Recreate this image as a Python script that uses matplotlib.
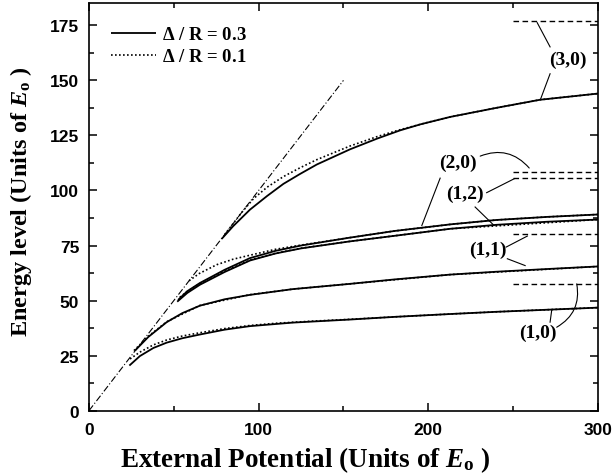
import matplotlib
matplotlib.use("Agg")
import matplotlib.pyplot as plt
from matplotlib.ticker import MultipleLocator

plt.rcParams['mathtext.fontset'] = 'custom'
plt.rcParams['mathtext.rm'] = 'Liberation Serif:bold'
plt.rcParams['mathtext.it'] = 'Liberation Serif:italic:bold'
plt.rcParams['mathtext.bf'] = 'Liberation Serif:bold'

# ---------------- data ----------------
# Delta/R = 0.3 (solid)
x10_s = [23.8, 30, 38, 45.8, 55, 65.4, 80, 94.9, 120, 153.9, 180, 212.9, 240, 271.8, 300]
y10_s = [20.5, 24.8, 28.5, 30.9, 32.9, 34.6, 36.8, 38.4, 40.0, 41.4, 42.6, 43.9, 44.9, 45.9, 46.8]
x11_s = [27.4, 35, 45.8, 55, 65.4, 80, 94.9, 120, 153.9, 180, 212.9, 240, 271.8, 300]
y11_s = [27.5, 33.5, 40.2, 44.3, 47.7, 50.6, 52.6, 55.2, 57.6, 59.6, 61.8, 63.1, 64.4, 65.5]
x20_s = [52.5, 58, 65.4, 80, 94.9, 110, 125, 153.9, 180, 212.9, 240, 270, 300]
y20_s = [50.3, 54.3, 58.0, 64.0, 69.3, 72.6, 75.0, 78.6, 81.6, 84.6, 86.6, 88.0, 89.1]
x12_s = [52.0, 58, 65.4, 80, 94.9, 110, 125, 153.9, 180, 212.9, 240, 270, 300]
y12_s = [49.5, 53.5, 57.2, 63.0, 68.2, 71.4, 73.7, 76.9, 79.4, 82.6, 84.4, 85.8, 86.8]
x30_s = [78.2, 85, 94.9, 105, 114.6, 124.4, 134.3, 153.9, 170, 183.4, 195.2, 212.9, 240, 265.9, 300]
y30_s = [78.0, 83.8, 91.3, 97.5, 103.0, 107.5, 111.8, 118.7, 123.6, 127.3, 130.0, 133.4, 137.5, 141.2, 144.0]

# Delta/R = 0.1 (dotted)
x10_d = [24.2, 30, 38, 45.8, 55, 65.4, 80, 94.9, 110, 130, 153.9, 180, 212.9, 240, 271.8, 300]
y10_d = [23.5, 26.6, 29.9, 32.1, 33.9, 35.4, 37.3, 38.7, 39.7, 40.6, 41.5, 42.6, 43.9, 44.9, 45.9, 46.8]
x11_d = [26.5, 35, 45.8, 65.4, 94.9, 120, 153.9, 212.9, 300]
y11_d = [27.3, 33.8, 40.4, 47.8, 52.7, 55.2, 57.6, 61.8, 65.5]
x20_d = [59, 65, 75.3, 85, 94.9, 110, 125, 153.9, 180, 212.9, 240, 270, 300]
y20_d = [59, 62.3, 66.3, 68.8, 70.6, 73.3, 75.2, 78.6, 81.6, 84.6, 86.6, 88.0, 89.1]
x12_d = [53.5, 58, 65.4, 80, 94.9, 110, 125, 153.9, 212.9, 300]
y12_d = [51.5, 54.2, 57.7, 63.3, 68.4, 71.5, 73.8, 76.9, 82.6, 86.8]
x30_d = [80, 90, 97, 105, 114.6, 124.4, 134.3, 153.9, 170, 183.4, 200, 212.9, 240, 265.9, 300]
y30_d = [80, 90, 96.3, 101.5, 106.3, 110.3, 114.0, 120.2, 124.5, 127.6, 131.0, 133.4, 137.5, 141.2, 144.0]

# classical line E = V
x_diag = [0, 150]
y_diag = [0, 150]

# asymptotic levels (infinite well)
levels = {'(1,0)': 57.6, '(1,1)': 80.3, '(1,2)': 105.8, '(2,0)': 108.6, '(3,0)': 176.8}
level_x = [250, 300]

# ---------------- plot ----------------
fig = plt.figure(figsize=(6.12, 4.77), dpi=100)
ax = fig.add_axes([0.1454, 0.1369, 0.8316, 0.8541])

lw_s = 1.3
solid = [(x10_s, y10_s), (x11_s, y11_s), (x20_s, y20_s), (x12_s, y12_s), (x30_s, y30_s)]
dotted = [(x10_d, y10_d), (x11_d, y11_d), (x20_d, y20_d), (x12_d, y12_d), (x30_d, y30_d)]
for i, (xd, yd) in enumerate(dotted):
    ax.plot(xd, yd, color='black', lw=1.2, linestyle=(0, (1, 1.4)),
            label=r'$\Delta$ / R = 0.1' if i == 0 else None)
for i, (xs, ys) in enumerate(solid):
    ax.plot(xs, ys, color='black', lw=lw_s, solid_capstyle='butt',
            label=r'$\Delta$ / R = 0.3' if i == 0 else None)

ax.plot(x_diag, y_diag, color='black', lw=0.8, linestyle=(0, (6, 2, 1, 2)))

for name, v in levels.items():
    ax.plot(level_x, [v, v], color='black', lw=1.0, linestyle=(0, (4, 2.5)))

# labels and leaders
tfont = dict(family='Liberation Serif', weight='bold', size=14, ha='center', va='center')
labels = {'(3,0)': (282.4, 159.4), '(2,0)': (217.3, 112.6), '(1,2)': (221.9, 98.5),
          '(1,1)': (235.2, 73.3), '(1,0)': (264.7, 35.8)}
for name, (tx, ty) in labels.items():
    ax.text(tx, ty, name, **tfont)

straight = [((264.2, 176.2), (271.8, 165.2)), ((271.8, 153.0), (266.3, 141.7)),
            ((207.0, 105.6), (196.2, 84.1)),
            ((234.4, 99.0), (250.6, 105.3)), ((227.6, 92.5), (238.8, 84.1)),
            ((245.9, 74.3), (258.4, 79.3)), ((246.6, 69.0), (257.1, 65.9)),
            ((271.8, 40.2), (272.8, 45.9))]
for a, b in straight:
    ax.plot([a[0], b[0]], [a[1], b[1]], color='black', lw=0.8)
ax.annotate('', xy=(259.5, 110.2), xytext=(230.6, 115.6),
            arrowprops=dict(arrowstyle='-', lw=0.8, color='black',
                            connectionstyle='arc3,rad=-0.35', shrinkA=0, shrinkB=0))
ax.annotate('', xy=(287.5, 57.6), xytext=(275.7, 37.9),
            arrowprops=dict(arrowstyle='-', lw=0.8, color='black',
                            connectionstyle='arc3,rad=0.35', shrinkA=0, shrinkB=0))

ax.set_xlim(0, 300)
ax.set_ylim(0, 185)
ax.xaxis.set_major_locator(MultipleLocator(100))
ax.xaxis.set_minor_locator(MultipleLocator(50))
ax.yaxis.set_major_locator(MultipleLocator(25))
ax.yaxis.set_minor_locator(MultipleLocator(12.5))
ax.tick_params(which='both', direction='in', top=True, right=True, width=1.1)
ax.tick_params(which='major', length=5.5)
ax.tick_params(which='minor', length=3.5)
ax.tick_params(axis='x', which='major', pad=8)
ax.tick_params(axis='y', which='major', pad=7)
for lab in ax.get_xticklabels() + ax.get_yticklabels():
    lab.set_fontfamily('Liberation Sans')
    lab.set_fontweight('bold')
    lab.set_fontsize(12.5)
for s in ax.spines.values():
    s.set_linewidth(1.2)

ax.set_xlabel(r'External Potential (Units of $E_{\rm o}$ )',
              fontdict=dict(family='Liberation Serif', weight='bold', size=19.5))
ax.xaxis.set_label_coords(0.424, -0.082)
ax.set_ylabel(r'Energy level (Units of $E_{\rm o}$ )',
              fontdict=dict(family='Liberation Serif', weight='bold', size=17.5))
ax.yaxis.set_label_coords(-0.108, 0.515)

h, l = ax.get_legend_handles_labels()
order = [l.index(r'$\Delta$ / R = 0.3'), l.index(r'$\Delta$ / R = 0.1')]
ax.legend([h[i] for i in order], [l[i] for i in order], loc='upper left',
          bbox_to_anchor=(0.01, 0.985), frameon=False, handlelength=2.4,
          handletextpad=0.3, labelspacing=0.25,
          prop=dict(family='Liberation Serif', weight='bold', size=13.5))

fig.savefig('out.png', dpi=100)
